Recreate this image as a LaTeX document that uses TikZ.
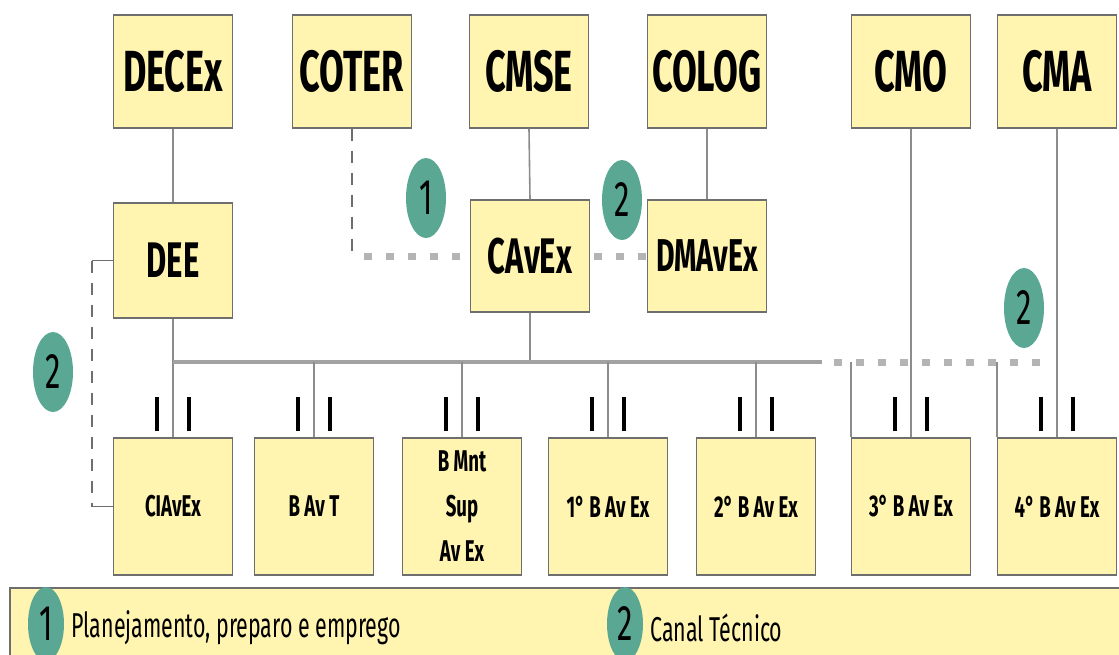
\documentclass[tikz,border=0pt]{standalone}
\usepackage{fontspec}
\usetikzlibrary{shapes.geometric,calc}
\newfontfamily\cfb[FakeStretch=0.62]{Fira Sans Bold}
\newfontfamily\cfr[FakeStretch=0.62]{Fira Sans}
\definecolor{boxyel}{HTML}{FFF4B0}
\definecolor{boxedge}{HTML}{6E6E6E}
\definecolor{badge}{HTML}{5AA893}
\definecolor{linegray}{HTML}{8C8C8C}
\definecolor{dotgray}{HTML}{B4B4B4}
\tikzset{
  box/.style={draw=boxedge, fill=boxyel, line width=1.4pt, inner sep=0pt, minimum width=119pt, align=center},
  topbox/.style={box, minimum height=113pt, font=\cfb\fontsize{58}{60}\selectfont},
  midbox/.style={box, minimum height=113pt, font=\cfb\fontsize{50}{52}\selectfont},
  botbox/.style={box, minimum height=137pt, font=\cfb\fontsize{30}{45}\selectfont},
  badgenode/.style={ellipse, fill=badge, inner sep=0pt, minimum width=40pt, minimum height=80pt, font=\cfr\fontsize{50}{50}\selectfont},
  conn/.style={draw=linegray, line width=1.6pt},
  bus/.style={draw=dotgray!90!black, line width=3.5pt},
  dotbus/.style={draw=dotgray, line width=7pt, dash pattern=on 8pt off 14pt},
  dashconn/.style={draw=boxedge, line width=1.4pt, dash pattern=on 12pt off 10pt},
  tick/.style={draw=black, line width=4pt},
}
\begin{document}
\begin{tikzpicture}[x=1pt, y=-1pt]
\useasboundingbox (0,0) rectangle (1119,654);
% top row
\node[topbox] (decex) at (173,71.5) {DECEx};
\node[topbox] (coter) at (352,71.5) {COTER};
\node[topbox] (cmse)  at (529,71.5) {CMSE};
\node[topbox] (colog) at (707,71.5) {COLOG};
\node[topbox] (cmo)   at (911,71.5) {CMO};
\node[topbox] (cma)   at (1057,71.5) {CMA};
% middle row
\node[midbox, minimum height=115pt] (dee) at (173,260.5) {DEE};
\node[midbox, minimum height=112pt] (cavex) at (530,256) {CAvEx};
\node[midbox, minimum height=112pt, font=\cfb\fontsize{46}{48}\selectfont] (dmavex) at (707,256) {DMAvEx};
% bottom row
\node[botbox] (ciavex) at (173,506.5) {CIAvEx};
\node[botbox] (bavt)   at (314,506.5) {B Av T};
\node[botbox] (bmnt)   at (462,506.5) {B Mnt\\Sup\\Av Ex};
\node[botbox] (b1)     at (608,506.5) {1° B Av Ex};
\node[botbox] (b2)     at (756,506.5) {2° B Av Ex};
\node[botbox] (b3)     at (911,506.5) {3° B Av Ex};
\node[botbox] (b4)     at (1057,506.5) {4° B Av Ex};
% bus coordinates
\coordinate (busL) at (173,362);
\coordinate (busM) at (822,362);
\coordinate (busR) at (1040,362);
\coordinate (coterc) at (coter.south |- cavex.west);
\coordinate (deeT) at ($(dee.west)+(-21,0)$);
\coordinate (deeB) at (deeT |- ciavex.west);
% connectors
\draw[conn] (decex.south) -- (dee.north);
\draw[conn] (cmse.south) -- (cavex.north);
\draw[conn] (colog.south) -- (dmavex.north);
\draw[dashconn] (coter.south) -- (coterc);
\draw[dotbus] ([xshift=12pt]coterc) -- (cavex.west);
\draw[dotbus] ([xshift=4pt]cavex.east) -- (dmavex.west);
\draw[draw=boxedge, line width=1.6pt] (dee.west) -- (deeT);
\draw[dashconn] (deeT) -- (deeB);
\draw[draw=boxedge, line width=1.6pt] (deeB) -- (ciavex.west);
\draw[conn] (dee.south) -- (ciavex.north);
\draw[conn] (cavex.south) -- (cavex.south |- busL);
\draw[bus] (busL) -- (busM);
\draw[dotbus] ([xshift=12pt]busM) -- (busR);
\draw[conn] (bavt.north |- busL) -- (bavt.north);
\draw[conn] (bmnt.north |- busL) -- (bmnt.north);
\draw[conn] (b1.north |- busL) -- (b1.north);
\draw[conn] (b2.north |- busL) -- (b2.north);
\draw[conn] (b3.north west |- busL) -- (b3.north west);
\draw[conn] (b4.north west |- busL) -- (b4.north west);
\draw[conn] (cmo.south) -- (b3.north);
\draw[conn] (cma.south) -- (b4.north);
% ticks
\foreach \n in {ciavex,bavt,bmnt,b1,b2,b3,b4}{
  \draw[tick] ([xshift=-16pt,yshift=6pt]\n.north) -- ++(0,-34);
  \draw[tick] ([xshift=16pt,yshift=6pt]\n.north) -- ++(0,-34);
}
% badges
\node[badgenode] (b1badge) at (426,198) {1};
\node[badgenode] (b2badge) at (622,200) {2};
\node[badgenode] (b3badge) at (53,372) {2};
\node[badgenode] (b4badge) at (1024,308) {2};
% legend
\fill[boxyel] (10,588) rectangle (1125,660);
\draw[boxedge, line width=1.4pt] (10,660) -- (10,588) -- (1125,588);
\node[badgenode, minimum width=36pt, minimum height=74pt] (lg1) at (46,624) {1};
\node[anchor=west, font=\cfr\fontsize{34.5}{36}\selectfont] (lt1) at (68,628) {Planejamento, preparo e emprego};
\node[badgenode, minimum width=36pt, minimum height=74pt] (lg2) at (625,624) {2};
\node[anchor=west, font=\cfr\fontsize{34.5}{36}\selectfont] (lt2) at (647,628) {Canal Técnico};
\end{tikzpicture}
\end{document}
